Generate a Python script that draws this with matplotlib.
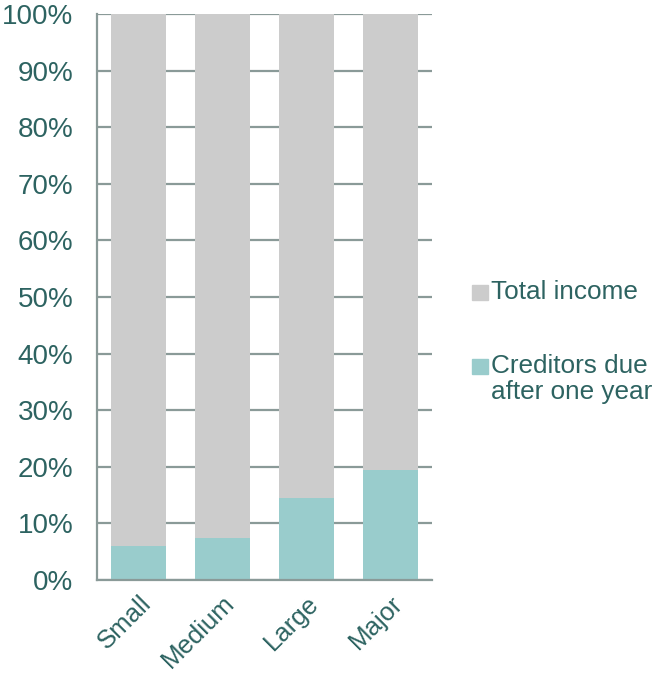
import matplotlib
matplotlib.use("Agg")
import matplotlib.pyplot as plt
from matplotlib.patches import Rectangle
import numpy as np

# Data (percent of total)
categories = ["Small", "Medium", "Large", "Major"]
creditors_after_one_year = [6.0, 7.5, 14.5, 19.5]
total_income = [100 - v for v in creditors_after_one_year]
yticks = list(range(0, 101, 10))
legend_labels = ["Total income", "Creditors due\nafter one year"]

text_color = "#2D6361"
grid_color = "#8A9A98"
teal = "#99CCCC"
gray = "#CCCCCC"

plt.rcParams["font.family"] = ["Liberation Sans", "DejaVu Sans"]

W, H = 655, 678
fig = plt.figure(figsize=(W / 100, H / 100), dpi=100)
ax = fig.add_axes([97 / W, 1 - 580 / H, 335 / W, 566 / H])

x = np.arange(len(categories))
ax.bar(x, creditors_after_one_year, width=0.655, color=teal, zorder=2)
ax.bar(x, total_income, width=0.655, bottom=creditors_after_one_year,
       color=gray, zorder=2)

ax.set_xlim(-0.5, len(categories) - 0.5)
ax.set_ylim(0, 100)
ax.set_yticks(yticks)
ax.set_yticklabels([f"{t}%" for t in yticks], fontsize=20, color=text_color)
ax.set_xticks(x)
ax.set_xticklabels(categories, fontsize=18.5, color=text_color,
                   rotation=45, ha="right", rotation_mode="anchor")
ax.tick_params(axis="y", length=0, pad=17)
ax.tick_params(axis="x", length=0, pad=8)

ax.set_axisbelow(True)
ax.yaxis.grid(True, color=grid_color, linewidth=1.6)
for side in ["top", "right"]:
    ax.spines[side].set_visible(False)
for side in ["left", "bottom"]:
    ax.spines[side].set_color(grid_color)
    ax.spines[side].set_linewidth(1.6)

# legend drawn by hand so the swatch sits on the first text line
for label, color, ycen in [(legend_labels[0], gray, 293),
                           (legend_labels[1], teal, 367)]:
    fig.patches.append(Rectangle((472 / W, 1 - (ycen + 7) / H), 16 / W, 15 / H,
                                 transform=fig.transFigure, color=color))
    fig.text(491 / W, 1 - (ycen - 13) / H, label, fontsize=18.8,
             color=text_color, va="top", ha="left", linespacing=1.08)

fig.savefig("out.png", dpi=100)
